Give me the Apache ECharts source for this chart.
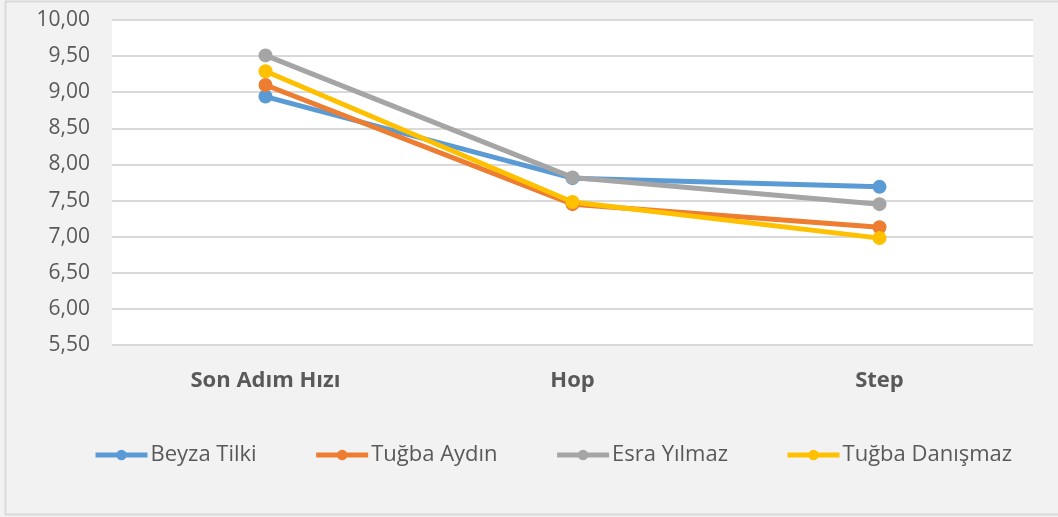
<!DOCTYPE html>
<html lang="tr">
<head>
<meta charset="UTF-8">
<title>Grafik</title>
<script src="https://cdn.jsdelivr.net/npm/echarts@6/dist/echarts.min.js"></script>
<style>
  html, body { margin: 0; padding: 0; background: #f2f2f2; }
  #box { width: 1058px; height: 517px; }
</style>
</head>
<body>
<div id="box"></div>
<script>
// kategoriler ve seriler
var categories = ['Son Adım Hızı', 'Hop', 'Step'];
var names = ['Beyza Tilki', 'Tuğba Aydın', 'Esra Yılmaz', 'Tuğba Danışmaz'];
var beyza = [8.94, 7.81, 7.69];
var tugbaA = [9.10, 7.45, 7.13];
var esra = [9.51, 7.82, 7.45];
var tugbaD = [9.29, 7.48, 6.98];
var colors = ['#5b9bd5', '#ed7d31', '#a5a5a5', '#ffc000'];

var myChart = echarts.init(document.getElementById('box'));

function makeSeries(name, data, color) {
    return {
        name: name,
        type: 'line',
        data: data,
        symbol: 'circle',
        symbolSize: 14,
        lineStyle: { width: 5, color: color },
        itemStyle: { color: color },
        emphasis: { disabled: true }
    };
}

var font = "'Open Sans', 'Noto Sans', sans-serif";

var option = {
    backgroundColor: '#f2f2f2',
    animation: false,
    textStyle: { fontFamily: font },
    graphic: [{
        type: 'rect',
        shape: { x: 5.5, y: 1.5, width: 1060, height: 513 },
        style: { fill: 'none', stroke: '#d9d9d9', lineWidth: 2 },
        z: -1
    }],
    grid: {
        left: 112, right: 25, top: 20, bottom: 172,
        show: true, backgroundColor: '#ffffff', borderWidth: 0
    },
    legend: {
        data: names,
        bottom: 46,
        left: 88,
        itemWidth: 52,
        itemHeight: 13,
        itemGap: 57,
        lineStyle: { width: 5 },
        textStyle: { fontSize: 22, color: '#595959', fontFamily: font, padding: [0, 0, 0, -2] }
    },
    xAxis: {
        type: 'category',
        data: categories,
        axisLine: { show: false },
        axisTick: { show: false },
        axisLabel: { fontSize: 22, fontWeight: 'bold', color: '#595959', margin: 25, fontFamily: font }
    },
    yAxis: {
        type: 'value',
        min: 5.5,
        max: 10,
        interval: 0.5,
        axisLine: { show: false },
        axisTick: { show: false },
        splitLine: { lineStyle: { color: '#d9d9d9', width: 2 } },
        axisLabel: {
            fontSize: 21, color: '#595959', margin: 22, fontFamily: font,
            formatter: function (v) { return v.toFixed(2).replace('.', ','); }
        }
    },
    series: [
        makeSeries(names[0], beyza, colors[0]),
        makeSeries(names[1], tugbaA, colors[1]),
        makeSeries(names[2], esra, colors[2]),
        makeSeries(names[3], tugbaD, colors[3])
    ]
};
myChart.setOption(option);
</script>
</body>
</html>
